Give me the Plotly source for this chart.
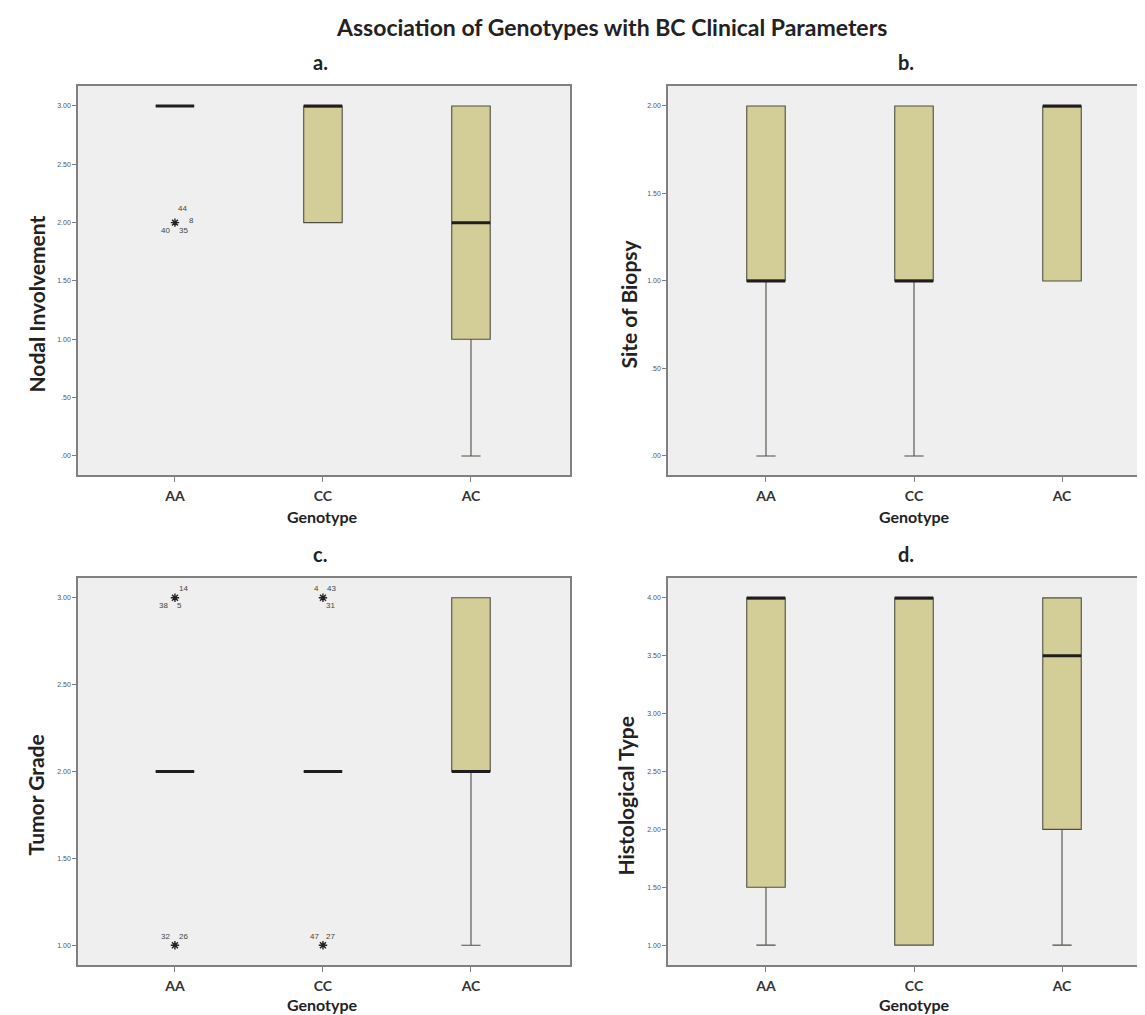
import plotly.graph_objects as go

W, H = 1145, 1015

genotypes = ["AA", "CC", "AC"]

# ---- panel a : Nodal Involvement ----
nodal_q1 = [3.0, 2.0, 1.0]
nodal_median = [3.0, 3.0, 2.0]
nodal_q3 = [3.0, 3.0, 3.0]
nodal_lower = [3.0, 2.0, 0.0]
nodal_upper = [3.0, 3.0, 3.0]
nodal_tickvals = [0.0, 0.5, 1.0, 1.5, 2.0, 2.5, 3.0]
nodal_ticktext = [".00", ".50", "1.00", "1.50", "2.00", "2.50", "3.00"]
nodal_out_geno = ["AA"]
nodal_out_value = [2.0]
nodal_out_ids = [["44", "8", "40", "35"]]

# ---- panel b : Site of Biopsy ----
biopsy_q1 = [1.0, 1.0, 1.0]
biopsy_median = [1.0, 1.0, 2.0]
biopsy_q3 = [2.0, 2.0, 2.0]
biopsy_lower = [0.0, 0.0, 1.0]
biopsy_upper = [2.0, 2.0, 2.0]
biopsy_tickvals = [0.0, 0.5, 1.0, 1.5, 2.0]
biopsy_ticktext = [".00", ".50", "1.00", "1.50", "2.00"]
biopsy_out_geno = []
biopsy_out_value = []
biopsy_out_ids = []

# ---- panel c : Tumor Grade ----
grade_q1 = [2.0, 2.0, 2.0]
grade_median = [2.0, 2.0, 2.0]
grade_q3 = [2.0, 2.0, 3.0]
grade_lower = [2.0, 2.0, 1.0]
grade_upper = [2.0, 2.0, 3.0]
grade_tickvals = [1.0, 1.5, 2.0, 2.5, 3.0]
grade_ticktext = ["1.00", "1.50", "2.00", "2.50", "3.00"]
grade_out_geno = ["AA", "AA", "CC", "CC"]
grade_out_value = [3.0, 1.0, 3.0, 1.0]
grade_out_ids = [["14", "38", "5"], ["32", "26"], ["4", "43", "31"], ["47", "27"]]

# ---- panel d : Histological Type ----
histo_q1 = [1.5, 1.0, 2.0]
histo_median = [4.0, 4.0, 3.5]
histo_q3 = [4.0, 4.0, 4.0]
histo_lower = [1.0, 1.0, 1.0]
histo_upper = [4.0, 4.0, 4.0]
histo_tickvals = [1.0, 1.5, 2.0, 2.5, 3.0, 3.5, 4.0]
histo_ticktext = ["1.00", "1.50", "2.00", "2.50", "3.00", "3.50", "4.00"]
histo_out_geno = []
histo_out_value = []
histo_out_ids = []

# ---------------- styles ----------------
FONT = "Lato"
BOX_FILL = "#D3CE97"
BOX_LINE = "#4f4f45"
MED_COLOR = "#1e1e1e"
FRAME = "#808080"
BOX_W = 0.26

# label placement (px offsets: dx right, dy up)
label_offsets = {
    "a": [[(8, 14), (17, 2), (-9, -8), (9, -8)]],
    "c": [[(9, 9), (-11, -8), (5, -8)],
          [(-9, 9), (9, 9)],
          [(-6, 9), (9, 9), (8, -8)],
          [(-8, 9), (8, 9)]],
}

def px_x(p):
    return p / W

def px_y(p):
    return 1 - p / H

panels = [
    dict(key="a", title="Nodal Involvement", q1=nodal_q1, med=nodal_median, q3=nodal_q3,
         lo=nodal_lower, hi=nodal_upper, tv=nodal_tickvals, tt=nodal_ticktext,
         og=nodal_out_geno, ov=nodal_out_value, oi=nodal_out_ids,
         xdom=(70, 562), ydom=(78, 467), xr=(-0.655, 2.669), yr=(-0.163, 3.171),
         ytitle_x=28, xtitle_gap=41),
    dict(key="b", title="Site of Biopsy", q1=biopsy_q1, med=biopsy_median, q3=biopsy_q3,
         lo=biopsy_lower, hi=biopsy_upper, tv=biopsy_tickvals, tt=biopsy_ticktext,
         og=biopsy_out_geno, ov=biopsy_out_value, oi=biopsy_out_ids,
         xdom=(660, 1144), ydom=(78, 467), xr=(-0.662, 2.608), yr=(-0.109, 2.114),
         ytitle_x=620, xtitle_gap=41),
    dict(key="c", title="Tumor Grade", q1=grade_q1, med=grade_median, q3=grade_q3,
         lo=grade_lower, hi=grade_upper, tv=grade_tickvals, tt=grade_ticktext,
         og=grade_out_geno, ov=grade_out_value, oi=grade_out_ids,
         xdom=(70, 562), ydom=(570, 957), xr=(-0.655, 2.669), yr=(0.886, 3.114),
         ytitle_x=27, xtitle_gap=39),
    dict(key="d", title="Histological Type", q1=histo_q1, med=histo_median, q3=histo_q3,
         lo=histo_lower, hi=histo_upper, tv=histo_tickvals, tt=histo_ticktext,
         og=histo_out_geno, ov=histo_out_value, oi=histo_out_ids,
         xdom=(660, 1144), ydom=(570, 957), xr=(-0.662, 2.608), yr=(0.828, 4.172),
         ytitle_x=617, xtitle_gap=39),
]

fig = go.Figure()
annotations = []
layout_axes = {}
pos = list(range(len(genotypes)))

for n, p in enumerate(panels, start=1):
    xa = "x" if n == 1 else f"x{n}"
    ya = "y" if n == 1 else f"y{n}"
    xkey = "xaxis" if n == 1 else f"xaxis{n}"
    ykey = "yaxis" if n == 1 else f"yaxis{n}"

    fig.add_trace(go.Box(
        x=pos, q1=p["q1"], median=p["med"], q3=p["q3"],
        lowerfence=p["lo"], upperfence=p["hi"],
        width=BOX_W, whiskerwidth=0.5, boxpoints=False,
        fillcolor=BOX_FILL, line=dict(color=BOX_LINE, width=1.1),
        xaxis=xa, yaxis=ya, showlegend=False, hoverinfo="skip"))

    # thick median lines
    mx, my = [], []
    for i, m in zip(pos, p["med"]):
        mx += [i - BOX_W / 2, i + BOX_W / 2, None]
        my += [m, m, None]
    fig.add_trace(go.Scatter(x=mx, y=my, mode="lines",
                             line=dict(color=MED_COLOR, width=3),
                             xaxis=xa, yaxis=ya, showlegend=False, hoverinfo="skip"))

    # extreme outliers (stars) with case labels
    if p["og"]:
        ox = [genotypes.index(g) for g in p["og"]]
        fig.add_trace(go.Scatter(x=ox, y=p["ov"], mode="markers",
                                 marker=dict(symbol="asterisk-open", size=7, color="#222",
                                             line=dict(color="#222", width=1.4)),
                                 xaxis=xa, yaxis=ya, showlegend=False, hoverinfo="skip"))
        for k, (xv, yv, ids) in enumerate(zip(ox, p["ov"], p["oi"])):
            for j, lab in enumerate(ids):
                dx, dy = label_offsets[p["key"]][k][j]
                annotations.append(dict(x=xv, y=yv, xref=xa, yref=ya, text=lab,
                                        showarrow=False, xshift=dx, yshift=dy,
                                        font=dict(family="Liberation Sans", size=8, color="#444")))

    x0, x1 = p["xdom"]
    y0, y1 = p["ydom"]
    layout_axes[xkey] = dict(
        domain=[px_x(x0), px_x(x1)], range=list(p["xr"]), anchor=ya,
        tickvals=pos, ticktext=genotypes, ticks="outside", ticklen=5, tickcolor=FRAME,
        tickfont=dict(family=FONT, size=14, color="#333", weight="bold"),
        ticklabelstandoff=2,
        showgrid=False, zeroline=False, showline=True, mirror=True,
        linecolor=FRAME, linewidth=1.5, fixedrange=True)
    layout_axes[ykey] = dict(
        domain=[px_y(y1), px_y(y0)], range=list(p["yr"]), anchor=xa,
        tickvals=p["tv"], ticktext=p["tt"], ticks="outside", ticklen=4, tickcolor=FRAME,
        tickfont=dict(family="Liberation Sans", size=7, color="#555"),
        showgrid=False, zeroline=False, showline=True, mirror=True,
        linecolor=FRAME, linewidth=1.5, fixedrange=True)

    # panel letter
    annotations.append(dict(x=px_x((x0 + x1) / 2 - 4), y=px_y(y0 - 24),
                            xref="paper", yref="paper", text=p["key"] + ".",
                            showarrow=False, xanchor="center", yanchor="middle",
                            font=dict(family=FONT, size=20, color="#222", weight="bold")))
    # y axis title
    annotations.append(dict(x=px_x(p["ytitle_x"]), y=px_y((y0 + y1) / 2 + 24),
                            xref="paper", yref="paper", text=p["title"], textangle=-90,
                            showarrow=False, xanchor="center", yanchor="middle",
                            font=dict(family=FONT, size=21, color="#222", weight="bold")))
    # x axis title
    annotations.append(dict(x=1, y=px_y(y1 + p["xtitle_gap"]), xref=xa, yref="paper",
                            text="Genotype",
                            showarrow=False, xanchor="center", yanchor="middle",
                            font=dict(family=FONT, size=16, color="#222", weight="bold")))

annotations.append(dict(x=px_x(603), y=px_y(19), xref="paper", yref="paper",
                        text="Association of Genotypes with BC Clinical Parameters",
                        showarrow=False, xanchor="center", yanchor="middle",
                        font=dict(family=FONT, size=23, color="#222", weight="bold")))

fig.update_layout(
    template="none",
    width=W, height=H, margin=dict(l=0, r=0, t=0, b=0),
    paper_bgcolor="white", plot_bgcolor="#EFEFEF",
    annotations=annotations, showlegend=False, **layout_axes)

fig.write_html("out.html")
